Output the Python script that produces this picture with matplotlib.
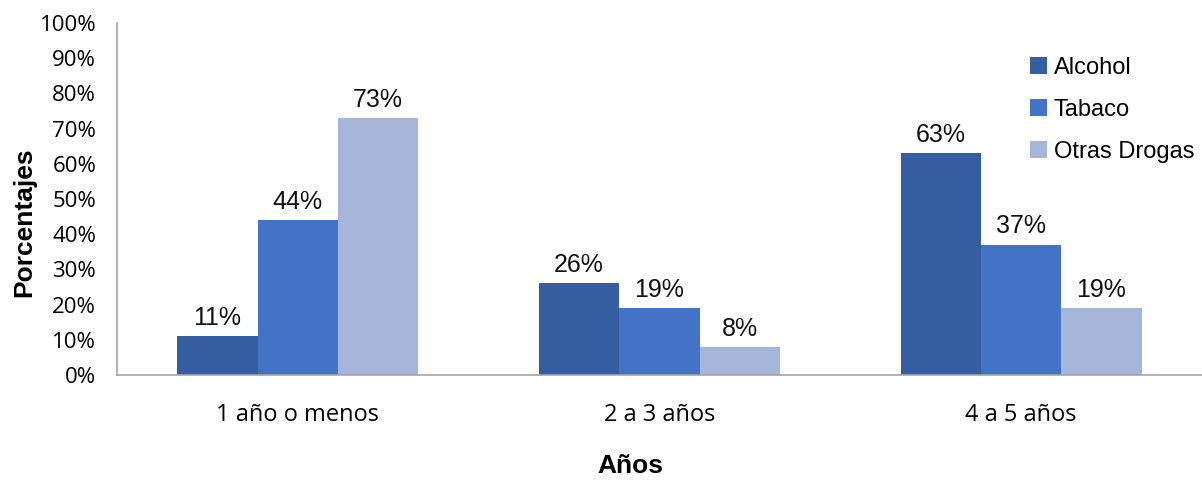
import matplotlib.pyplot as plt
import numpy as np

categorias = ["1 año o menos", "2 a 3 años", "4 a 5 años"]
series = ["Alcohol", "Tabaco", "Otras Drogas"]
alcohol = [11, 26, 63]
tabaco = [44, 19, 37]
otras = [73, 8, 19]
colores = ["#345E9F", "#4472C4", "#A6B5DA"]

fig = plt.figure(figsize=(12.02, 4.83), dpi=100)
ax = fig.add_axes([117 / 1202, 108 / 483, 1 - 117 / 1202, 352 / 483])

x = np.arange(len(categorias))
ancho = 2 / 9
for i, (nombre, valores) in enumerate(zip(series, [alcohol, tabaco, otras])):
    pos = x + (i - 1) * ancho
    ax.bar(pos, valores, width=ancho, color=colores[i], label=nombre)
    for px, v in zip(pos, valores):
        ax.text(px, v + 1.8, f"{v}%", ha="center", va="bottom",
                fontsize=18, family="Liberation Sans", color="#111111")

ax.set_xlim(-0.5, 2.5)
ax.set_ylim(0, 100)
ax.set_yticks(range(0, 101, 10))
ax.set_yticklabels([f"{t}%" for t in range(0, 101, 10)],
                   fontsize=16, family="Open Sans")
ax.set_xticks(x)
ax.set_xticklabels(categorias, fontsize=17, family="Open Sans")
ax.tick_params(axis="y", length=0, pad=15)
ax.tick_params(axis="x", length=0, pad=20)

for s in ["top", "right"]:
    ax.spines[s].set_visible(False)
for s in ["left", "bottom"]:
    ax.spines[s].set_color("#A6A6A6")
    ax.spines[s].set_linewidth(1.2)

ax.set_ylabel("Porcentajes", fontsize=19, fontweight="bold",
              family="Liberation Sans")
ax.yaxis.set_label_coords(-81 / 1085, 0.435)
ax.set_xlabel("Años", fontsize=19, fontweight="bold",
              family="Liberation Sans")
ax.xaxis.set_label_coords((630 - 117) / 1085, -79 / 352)

ax.legend(loc="upper left", bbox_to_anchor=(0.822, 0.965), frameon=False,
          prop={"family": "Liberation Sans", "size": 17},
          handlelength=0.7, handleheight=0.7, handletextpad=0.3,
          labelspacing=0.85)

fig.savefig("out.png", dpi=100)
